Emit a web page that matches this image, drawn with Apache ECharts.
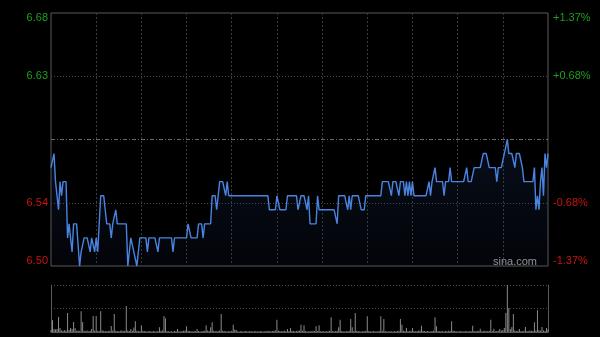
<!DOCTYPE html>
<html><head><meta charset="utf-8">
<script src="https://cdn.jsdelivr.net/npm/echarts@6/dist/echarts.min.js"></script>
<style>html,body{margin:0;padding:0;background:#000}#c{width:600px;height:337px}</style>
</head><body><div id="c"></div>
<script>
const prevClose = 6.59;
const sessions = [[570, 720], [781, 960]]; // minutes of day: 09:30-12:00, 13:01-16:00
const priceTicks = ['6.50', '6.54', '', '6.63', '6.68'];
const pctTicks = ['-1.37%', '-0.68%', '', '+0.68%', '+1.37%'];
const prices = [
6.57,6.57,6.58,6.56,6.55,6.54,6.56,6.55,6.56,6.56,
6.56,6.52,6.53,6.53,6.51,6.53,6.53,6.53,6.53,6.50,
6.51,6.51,6.52,6.52,6.52,6.52,6.51,6.52,6.52,6.51,
6.52,6.51,6.51,6.55,6.55,6.55,6.54,6.53,6.53,6.53,
6.52,6.53,6.53,6.54,6.53,6.53,6.53,6.53,6.53,6.53,
6.53,6.50,6.51,6.52,6.52,6.51,6.51,6.50,6.51,6.52,
6.52,6.52,6.52,6.52,6.51,6.52,6.52,6.52,6.52,6.52,
6.52,6.51,6.52,6.52,6.52,6.52,6.52,6.52,6.52,6.52,
6.52,6.51,6.52,6.52,6.52,6.52,6.52,6.52,6.52,6.52,
6.52,6.53,6.53,6.52,6.52,6.52,6.52,6.52,6.53,6.53,
6.53,6.52,6.53,6.53,6.53,6.53,6.53,6.55,6.55,6.55,
6.54,6.55,6.56,6.56,6.56,6.56,6.55,6.56,6.55,6.55,
6.55,6.55,6.55,6.55,6.55,6.55,6.55,6.55,6.55,6.55,
6.55,6.55,6.55,6.55,6.55,6.55,6.55,6.55,6.55,6.55,
6.55,6.55,6.55,6.55,6.55,6.54,6.54,6.54,6.54,6.54,
6.55,6.55,6.54,6.54,6.54,6.54,6.54,6.55,6.55,6.55,
6.55,6.55,6.55,6.55,6.54,6.54,6.55,6.55,6.55,6.55,
6.54,6.55,6.53,6.53,6.53,6.53,6.53,6.55,6.54,6.54,
6.54,6.54,6.54,6.54,6.54,6.54,6.54,6.54,6.54,6.54,
6.53,6.55,6.55,6.55,6.55,6.55,6.55,6.54,6.55,6.54,
6.55,6.55,6.55,6.55,6.55,6.55,6.54,6.54,6.54,6.55,
6.55,6.55,6.55,6.55,6.55,6.55,6.55,6.55,6.55,6.55,
6.56,6.56,6.56,6.56,6.56,6.56,6.55,6.56,6.56,6.56,
6.56,6.55,6.56,6.56,6.56,6.55,6.56,6.55,6.56,6.55,
6.56,6.55,6.55,6.55,6.55,6.55,6.55,6.55,6.55,6.55,
6.55,6.56,6.55,6.56,6.56,6.57,6.56,6.56,6.56,6.56,
6.56,6.55,6.56,6.56,6.56,6.57,6.56,6.56,6.56,6.56,
6.56,6.56,6.56,6.56,6.56,6.56,6.57,6.56,6.56,6.56,
6.56,6.57,6.57,6.57,6.57,6.57,6.57,6.58,6.58,6.58,
6.58,6.57,6.57,6.57,6.57,6.57,6.56,6.57,6.57,6.57,
6.57,6.58,6.58,6.59,6.58,6.58,6.58,6.58,6.57,6.58,
6.58,6.58,6.58,6.57,6.56,6.56,6.56,6.56,6.56,6.56,
6.56,6.57,6.54,6.55,6.54,6.56,6.57,6.55,6.58,6.57,6.58
];
const volumes = [
20000,117000,30000,25000,30000,150000,40000,15000,12000,18000,
14000,190000,20000,40000,30000,100000,40000,12000,15000,10000,
207000,100000,12000,10000,15000,8000,12000,30000,160000,15000,
160000,12000,10000,207000,15000,12000,10000,8000,12000,10000,
60000,15000,180000,12000,10000,8000,12000,15000,10000,12000,
260000,15000,10000,30000,12000,45000,107000,12000,10000,8000,
67000,12000,10000,8000,6000,10000,8000,6000,10000,8000,
6000,10000,47000,12000,15000,160000,137000,10000,8000,6000,
8000,6000,10000,8000,30000,8000,6000,10000,12000,15000,
57000,12000,10000,8000,6000,10000,8000,30000,10000,6000,
8000,10000,12000,67000,15000,10000,47000,97000,12000,10000,
8000,10000,15000,180000,12000,10000,8000,6000,10000,8000,
12000,73000,25000,20000,8000,6000,10000,8000,6000,10000,
8000,6000,10000,8000,6000,8000,10000,6000,8000,10000,
8000,6000,10000,8000,12000,10000,8000,10000,12000,15000,
123000,12000,10000,8000,10000,12000,8000,30000,10000,40000,
12000,10000,8000,10000,12000,15000,73000,12000,67000,10000,
8000,6000,10000,8000,12000,10000,57000,10000,67000,8000,
10000,8000,6000,10000,8000,12000,147000,10000,8000,10000,
12000,47000,123000,10000,8000,6000,10000,8000,12000,130000,
47000,10000,190000,12000,10000,8000,6000,10000,8000,12000,
157000,10000,8000,6000,10000,8000,6000,8000,10000,157000,
12000,130000,10000,8000,6000,10000,8000,6000,10000,8000,
10000,12000,130000,73000,12000,10000,40000,8000,10000,12000,
40000,10000,8000,10000,12000,15000,63000,12000,10000,8000,
10000,8000,6000,10000,12000,147000,57000,10000,8000,10000,
8000,6000,10000,8000,12000,10000,107000,12000,10000,8000,
6000,8000,10000,8000,6000,10000,8000,6000,10000,8000,
63000,10000,8000,12000,10000,33000,8000,10000,12000,8000,
10000,12000,123000,10000,33000,8000,10000,12000,30000,15000,
20000,40000,190000,470000,240000,30000,50000,180000,15000,10000,
12000,30000,10000,8000,12000,50000,10000,8000,15000,12000,
10000,97000,15000,217000,20000,12000,50000,15000,10000,40000,25000
];

function pad(n){return (n<10?'0':'')+n;}
const times = [];
sessions.forEach(function(s){
  for (let m = s[0]; m <= s[1]; m++) times.push(pad(Math.floor(m/60)) + ':' + pad(m%60));
});

const yMin = 6.50, yMax = 6.68, yStep = 0.045;
const font = 'Liberation Sans, Arial, sans-serif';
const green = '#1e9e1e', red = '#c81414';
function tickIdx(v){return Math.round((v - yMin) / yStep);}
function lblFmt(arr){
  return function(v){
    const i = tickIdx(v);
    const t = arr[i];
    if (!t) return '';
    const c = i > 2 ? 'g' : 'r';
    const pos = i === 4 ? 't' : (i === 0 ? 'b' : 'm');
    return '{' + c + pos + '|' + t + '}';
  };
}
const rich = {
  gt:{color:green, fontSize:11, fontFamily:font, padding:[10,0,0,0]},
  gm:{color:green, fontSize:11, fontFamily:font},
  rm:{color:red, fontSize:11, fontFamily:font},
  rb:{color:red, fontSize:11, fontFamily:font, padding:[0,0,10,0]}
};

const chart = echarts.init(document.getElementById('c'), null, {renderer:'canvas'});
chart.setOption({
  backgroundColor:'#000',
  animation:false,
  grid:[
    {left:51, right:52, top:13, height:253, show:true, borderColor:'#5a5a5a', borderWidth:1, backgroundColor:'transparent'},
    {left:51, right:52, top:285, height:47, show:false}
  ],
  xAxis:[
    {gridIndex:0, type:'category', data:times, boundaryGap:false,
     axisLine:{show:false}, axisTick:{show:false}, axisLabel:{show:false},
     splitLine:{show:true, interval:function(i){return i>0 && i<330 && i%30===0;}, lineStyle:{color:'#3c3c3c', type:[2,2], width:1}}},
    {gridIndex:1, type:'category', data:times, boundaryGap:false,
     axisLine:{show:true, lineStyle:{color:'#5a5a5a'}}, axisTick:{show:false}, axisLabel:{show:false}, splitLine:{show:false}}
  ],
  yAxis:[
    {gridIndex:0, type:'value', min:yMin, max:yMax, interval:yStep,
     axisLine:{show:false}, axisTick:{show:false},
     splitLine:{show:true, showMinLine:false, showMaxLine:false, lineStyle:{color:'#4a4a4a', type:[1,2], width:1}},
     axisLabel:{margin:3, formatter:lblFmt(priceTicks), rich:rich}},
    {gridIndex:0, type:'value', position:'right', min:yMin, max:yMax, interval:yStep,
     axisLine:{show:false}, axisTick:{show:false}, splitLine:{show:false},
     axisLabel:{margin:5, formatter:lblFmt(pctTicks), rich:rich}},
    {gridIndex:1, type:'value', min:0, max:470000, interval:235000,
     axisLine:{show:true, lineStyle:{color:'#5a5a5a'}}, axisTick:{show:false}, axisLabel:{show:false},
     splitLine:{show:true, showMinLine:false, lineStyle:{color:'#4a4a4a', type:[1,2], width:1}}},
    {gridIndex:1, type:'value', position:'right', min:0, max:470000, interval:235000,
     axisLine:{show:true, lineStyle:{color:'#5a5a5a'}}, axisTick:{show:false}, axisLabel:{show:false}, splitLine:{show:false}}
  ],
  series:[
    {type:'line', xAxisIndex:0, yAxisIndex:0, data:prices, symbol:'none', showSymbol:false,
     lineStyle:{color:'#4a84e0', width:1.4},
     areaStyle:{origin:'start', color:new echarts.graphic.LinearGradient(0,0,0,1,[
       {offset:0, color:'rgba(40,70,130,0.30)'},{offset:1, color:'rgba(20,35,70,0.18)'}])},
     markLine:{silent:true, symbol:'none', label:{show:false},
       lineStyle:{color:'#6a6a6a', type:[4,2,1,2], width:1}, data:[{yAxis:prevClose}]}},
    {type:'bar', xAxisIndex:1, yAxisIndex:2, data:volumes, barWidth:1, itemStyle:{color:'#8a8a8a'}}
  ],
  graphic:[
    {type:'text', right:63, top:256, style:{text:'sina.com', fill:'#a0a0a0', font:'11px ' + font}}
  ]
});
</script></body></html>
